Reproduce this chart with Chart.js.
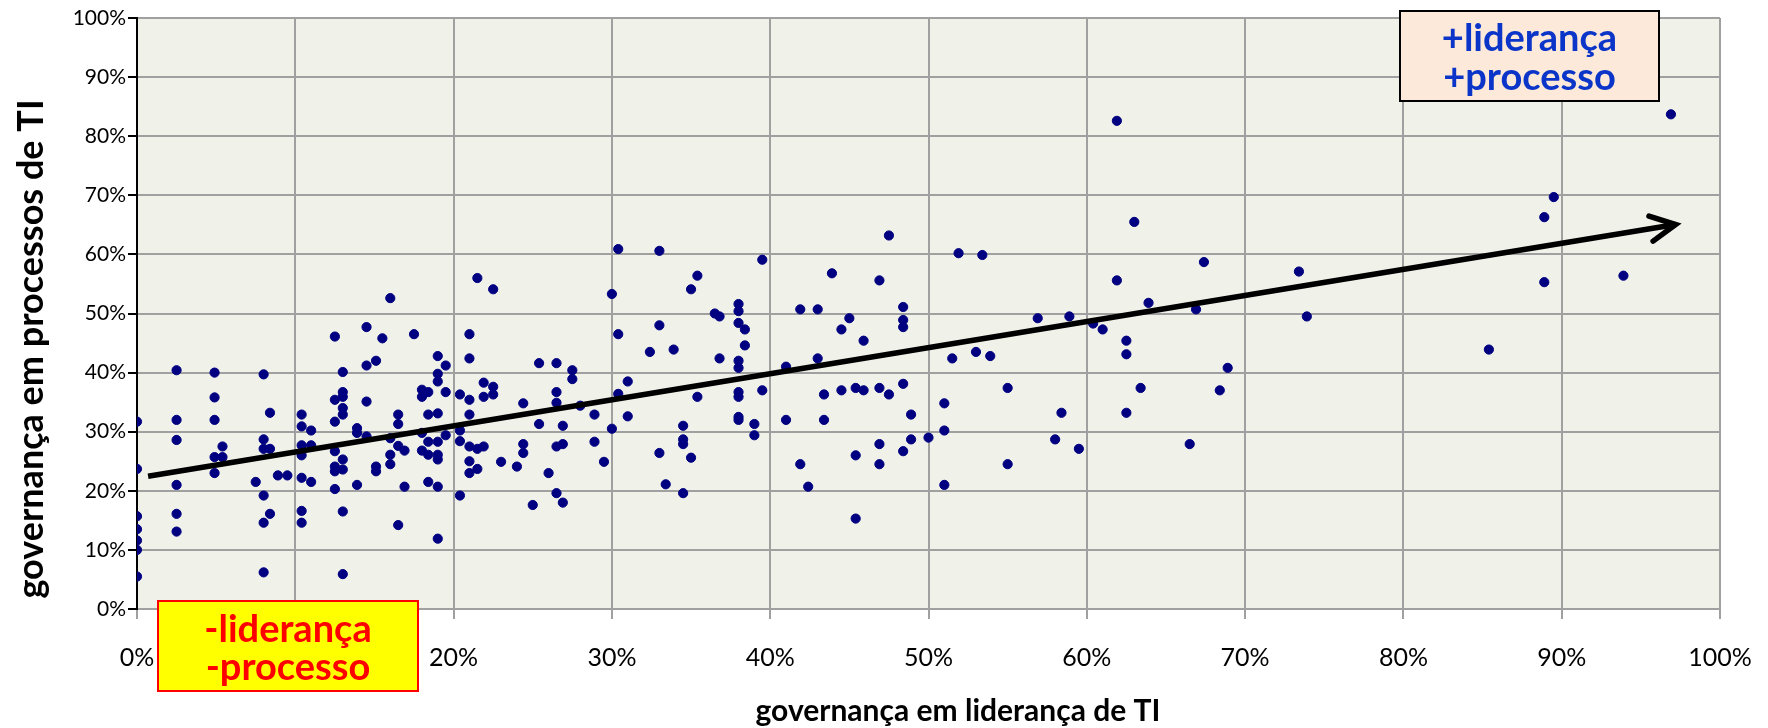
<!DOCTYPE html>
<html lang="pt-BR">
<head>
<meta charset="UTF-8">
<title>Governança de TI: liderança x processos</title>
<script src="https://cdn.jsdelivr.net/npm/chart.js"></script>
<style>
  html, body { margin: 0; padding: 0; background: #fff; overflow: hidden; }
  #wrap { width: 1768px; height: 728px; position: relative; }
</style>
</head>
<body>
<div id="wrap"><canvas id="grafico"></canvas></div>
<script>
// pontuação de liderança (eixo x, %) e, para cada uma, as pontuações de processos (eixo y, %)
const lideranca = [
  0, 2.5, 4.9, 5.4, 7.5, 8.0, 8.4, 8.9, 9.5, 10.4, 11.0, 12.5, 13.0, 13.9, 14.5, 15.1, 15.5,
  16.0, 16.5, 16.9, 17.5, 18.0, 18.4, 19.0, 19.5, 20.4, 21.0, 21.5, 21.9, 22.5, 23.0, 24.0,
  24.4, 25.0, 25.4, 26.0, 26.5, 26.9, 27.5, 28.0, 28.9, 29.5, 30.0, 30.4, 31.0, 32.4, 33.0,
  33.4, 33.9, 34.5, 35.0, 35.4, 36.5, 36.8, 38.0, 38.4, 39.0, 39.5, 41.0, 41.9, 42.4, 43.0,
  43.4, 43.9, 44.5, 45.0, 45.4, 45.9, 46.9, 47.5, 48.4, 48.9, 50.0, 51.0, 51.5, 51.9, 53.0,
  53.4, 53.9, 55.0, 56.9, 58.0, 58.4, 58.9, 59.5, 60.4, 61.0, 61.9, 62.5, 63.0, 63.4, 63.9,
  66.5, 66.9, 67.4, 68.4, 68.9, 73.4, 73.9, 85.4, 88.9, 89.5, 93.9, 96.9
];
const processos = [
  [31.7, 23.7, 15.7, 13.5, 11.6, 10.0, 5.5],
  [40.4, 32.0, 28.6, 21.0, 16.1, 13.1],
  [40.0, 35.8, 32.0, 25.7, 23.0],
  [27.5, 25.7],
  [21.5],
  [39.7, 28.7, 27.1, 19.2, 14.6, 6.2],
  [33.2, 27.1, 16.1],
  [22.6],
  [22.6],
  [32.9, 30.9, 27.7, 26.0, 22.2, 16.6, 14.6],
  [30.2, 27.7, 21.5],
  [46.1, 35.4, 31.7, 26.7, 24.1, 23.3, 20.3],
  [40.1, 36.7, 35.9, 34.0, 32.9, 25.3, 23.6, 16.5, 5.9],
  [30.6, 29.8, 21.0],
  [47.7, 41.2, 35.1, 29.2],
  [42.0, 24.1, 23.3],
  [45.8],
  [52.6, 28.9, 26.1, 24.5],
  [32.9, 31.3, 27.6, 14.2],
  [26.8, 20.7],
  [46.5],
  [37.1, 35.9, 29.8, 26.8],
  [36.7, 32.9, 28.3, 26.1, 21.5],
  [42.8, 39.8, 38.5, 33.1, 28.3, 26.1, 25.3, 20.7, 11.9],
  [41.2, 36.7, 29.4],
  [36.3, 30.2, 28.4, 19.2],
  [46.5, 42.4, 35.4, 32.9, 27.5, 25.0, 23.0],
  [56.0, 27.1, 23.7],
  [38.3, 35.9, 27.5],
  [54.1, 37.6, 36.3],
  [24.9],
  [24.1],
  [34.8, 27.9, 26.4],
  [17.6],
  [41.6, 31.3],
  [23.0],
  [41.6, 36.7, 34.9, 27.5, 19.6],
  [31.0, 27.9, 18.0],
  [40.4, 38.9],
  [34.4],
  [32.9, 28.3],
  [24.9],
  [53.3, 30.5],
  [60.9, 46.5, 36.4],
  [38.5, 32.6],
  [43.5],
  [60.6, 48.0, 26.4],
  [21.1],
  [43.9],
  [31.0, 28.7, 27.9, 19.6],
  [54.1, 25.6],
  [56.4, 35.9],
  [50.0],
  [49.5, 42.4],
  [51.6, 50.4, 48.4, 42.0, 40.8, 36.7, 35.9, 32.5, 32.0],
  [47.3, 44.6],
  [31.3, 29.4],
  [59.1, 37.0],
  [41.0, 32.0],
  [50.7, 24.5],
  [20.7],
  [50.7, 42.4],
  [36.3, 32.0],
  [56.8],
  [47.3, 37.0],
  [49.2],
  [37.4, 26.0, 15.3],
  [45.4, 37.0],
  [55.6, 37.4, 27.9, 24.5],
  [63.2, 36.3],
  [51.1, 48.9, 47.7, 38.1, 26.7],
  [32.9, 28.7],
  [29.0],
  [34.8, 30.2, 21.0],
  [42.4],
  [60.2],
  [43.5],
  [59.9],
  [42.8],
  [37.4, 24.5],
  [49.2],
  [28.7],
  [33.2],
  [49.5],
  [27.1],
  [48.3],
  [47.3],
  [82.6, 55.6],
  [45.4, 43.1, 33.2],
  [65.5],
  [37.4],
  [51.8],
  [27.9],
  [50.7],
  [58.7],
  [37.0],
  [40.8],
  [57.1],
  [49.5],
  [43.9],
  [66.3, 55.3],
  [69.7],
  [56.4],
  [83.7]
];

// seta de tendência (início e ponta, em %)
const setaInicio = [0.7, 22.45];
const setaFim = [97.2, 65.05];

const tituloX = 'governança em liderança de TI';
const tituloY = 'governança em processos de TI';
const rotuloAlto = ['+liderança', '+processo'];
const rotuloBaixo = ['-liderança', '-processo'];

const pontos = [];
lideranca.forEach((x, i) => {
  processos[i].forEach(y => pontos.push({ x: x, y: y }));
});

const GRADE = '#a0a0a0';
const FONTE = 'Lato, "Open Sans", sans-serif';

const fundo = {
  id: 'fundo',
  beforeDraw(chart) {
    const { ctx, chartArea: a } = chart;
    ctx.save();
    ctx.fillStyle = '#ffffff';
    ctx.fillRect(0, 0, chart.width, chart.height);
    ctx.fillStyle = '#f0f2ea';
    ctx.fillRect(a.left, a.top, a.right - a.left, a.bottom - a.top);
    ctx.restore();
  }
};

const ponta = {
  id: 'ponta',
  afterDatasetsDraw(chart) {
    const { ctx, scales } = chart;
    const x0 = scales.x.getPixelForValue(setaInicio[0]);
    const y0 = scales.y.getPixelForValue(setaInicio[1]);
    const x1 = scales.x.getPixelForValue(setaFim[0]);
    const y1 = scales.y.getPixelForValue(setaFim[1]);
    const ang = Math.atan2(y1 - y0, x1 - x0);
    const len = 28, abre = 0.47;
    ctx.save();
    ctx.strokeStyle = '#000';
    ctx.lineWidth = 5.5;
    ctx.lineCap = 'round';
    ctx.lineJoin = 'miter';
    ctx.beginPath();
    ctx.moveTo(x1 - len * Math.cos(ang - abre), y1 - len * Math.sin(ang - abre));
    ctx.lineTo(x1, y1);
    ctx.lineTo(x1 - len * Math.cos(ang + abre), y1 - len * Math.sin(ang + abre));
    ctx.stroke();
    ctx.restore();
  }
};

function caixa(ctx, x, y, w, h, fill, stroke, cor, linhas, base1, passo) {
  ctx.fillStyle = fill;
  ctx.fillRect(x, y, w, h);
  ctx.strokeStyle = stroke;
  ctx.lineWidth = 2;
  ctx.strokeRect(x, y, w, h);
  ctx.fillStyle = cor;
  ctx.font = 'bold 38px ' + FONTE;
  ctx.textAlign = 'center';
  ctx.textBaseline = 'alphabetic';
  linhas.forEach((t, i) => ctx.fillText(t, x + w / 2, base1 + i * passo));
}

const textos = {
  id: 'textos',
  afterDraw(chart) {
    const { ctx } = chart;
    ctx.save();
    // títulos dos eixos
    ctx.fillStyle = '#000';
    ctx.textAlign = 'center';
    ctx.textBaseline = 'middle';
    ctx.font = 'bold 30px ' + FONTE;
    ctx.fillText(tituloX, 958, 711);
    ctx.save();
    ctx.translate(31, 349);
    ctx.rotate(-Math.PI / 2);
    ctx.font = 'bold 36px ' + FONTE;
    ctx.fillText(tituloY, 0, 0);
    ctx.restore();
    // quadrantes
    caixa(ctx, 1400, 11, 259, 90, '#fde9d9', '#000', '#0a35c8', rotuloAlto, 51, 39);
    caixa(ctx, 158, 601, 260, 90, '#ffff00', '#ff0000', '#ff0000', rotuloBaixo, 642, 38);
    ctx.restore();
  }
};

new Chart(document.getElementById('grafico'), {
  type: 'scatter',
  data: {
    datasets: [
      {
        label: 'tendência',
        data: [{ x: setaInicio[0], y: setaInicio[1] }, { x: setaFim[0], y: setaFim[1] }],
        showLine: true,
        borderColor: '#000',
        borderWidth: 5.5,
        pointRadius: 0,
        order: 0
      },
      {
        label: 'empresas',
        data: pontos,
        backgroundColor: '#000080',
        borderColor: '#000080',
        borderWidth: 1,
        pointRadius: 4.6,
        order: 1
      }
    ]
  },
  options: {
    responsive: true,
    maintainAspectRatio: false,
    animation: false,
    events: [],
    layout: { padding: { top: 18, right: 48, bottom: 0, left: 0 } },
    plugins: { legend: { display: false }, tooltip: { enabled: false } },
    scales: {
      x: {
        type: 'linear',
        min: 0,
        max: 100,
        ticks: {
          stepSize: 10,
          callback: v => v + '%',
          color: '#000',
          font: { family: FONTE, size: 25 },
          padding: 24,
          maxRotation: 0
        },
        grid: { color: GRADE, lineWidth: 2, tickColor: GRADE, tickLength: 10 },
        border: { color: GRADE, width: 2 },
        // o padding dos rótulos não deve encolher a área do gráfico nas laterais
        afterFit: s => { s.height = 119; s.paddingLeft = 0; s.paddingRight = 0; }
      },
      y: {
        min: 0,
        max: 100,
        ticks: {
          stepSize: 10,
          callback: v => v + '%',
          color: '#000',
          font: { family: FONTE, size: 21 },
          padding: 2
        },
        grid: { color: GRADE, lineWidth: 2, tickColor: '#000', tickLength: 9 },
        border: { color: '#000', width: 2 },
        afterFit: s => { s.width = 137; }
      }
    }
  },
  plugins: [fundo, ponta, textos]
});
</script>
</body>
</html>
